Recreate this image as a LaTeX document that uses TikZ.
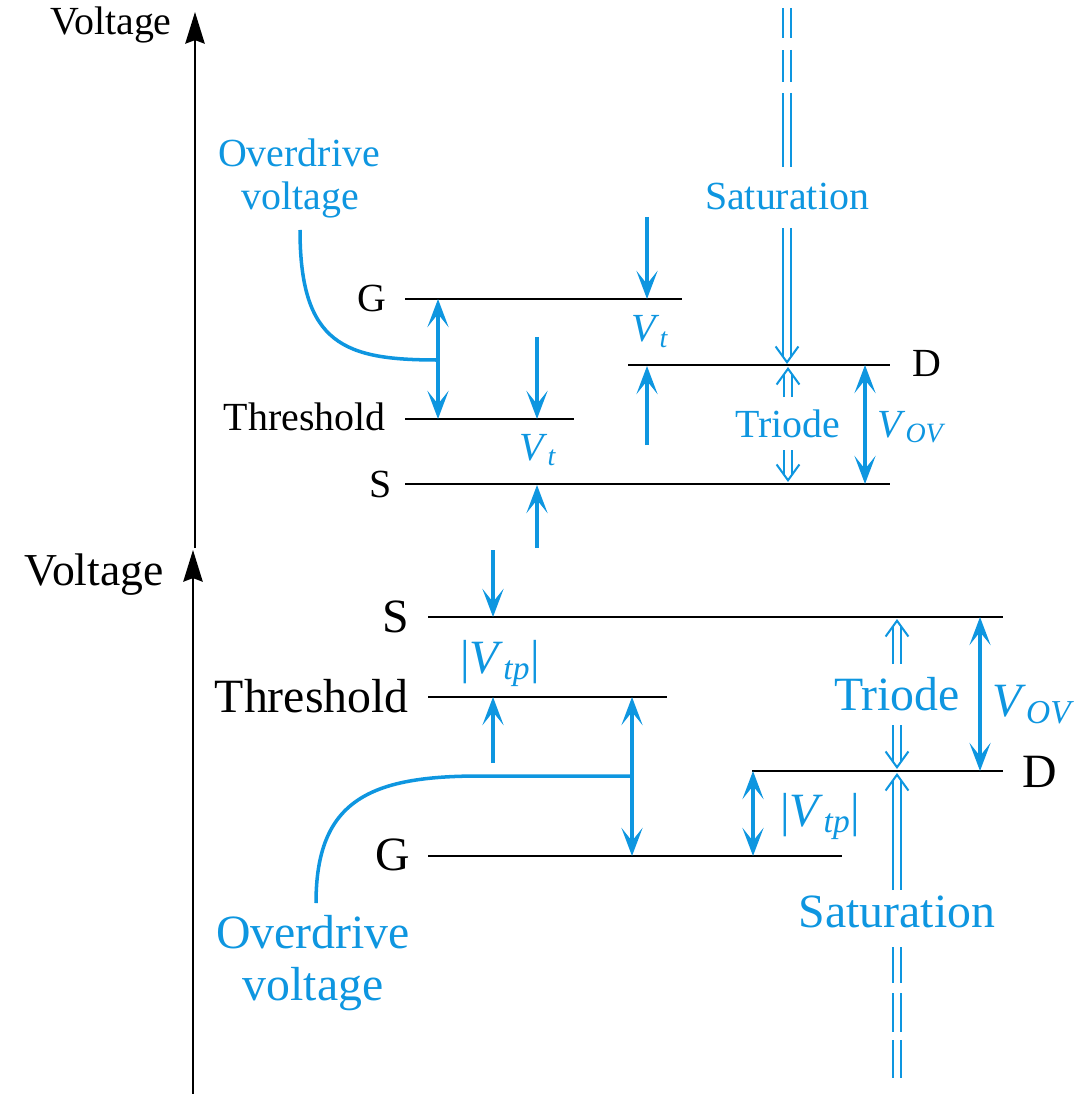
\documentclass[tikz,border=0pt]{standalone}
\usepackage{fontspec}
\setmainfont{Liberation Serif}
\usetikzlibrary{arrows.meta,calc}
\definecolor{bl}{RGB}{14,150,224}
\begin{document}
\begin{tikzpicture}[x=0.02cm,y=-0.02cm,
  lvl/.style={line width=1.6pt,black},
  vaxis/.style={line width=1.3pt,black,-{Stealth[length=18pt,width=11pt,inset=2pt]}},
  btip/.tip={Stealth[length=16pt,width=12pt,inset=7.5pt]},
  barr/.style={bl,line width=2.1pt,-btip},
  bdarr/.style={bl,line width=2.1pt,btip-btip},
  dbl/.style={bl,line width=1.15pt,double=white,double distance=3.4pt},
  dblshort/.style={dbl,shorten >=4.2pt},
  vtip/.style={bl,line width=1.15pt,-{Straight Barb[length=9pt,width=13pt]}},
  bcurve/.style={bl,line width=2pt},
  tsmall/.style={inner sep=0pt,font=\fontsize{22.7}{26}\selectfont},
  tbig/.style={inner sep=0pt,font=\fontsize{27.2}{31}\selectfont},
  tvolt/.style={inner sep=0pt,font=\fontsize{26}{30}\selectfont},
  bsmall/.style={tsmall,text=bl},
  bbig/.style={tbig,text=bl},
]
\useasboundingbox (0,0) rectangle (1074,1094);

% ================= TOP DIAGRAM =================
\coordinate (a1s) at (195,548);
\coordinate (a1e) at (195,12);
\draw[vaxis] (a1s) -- (a1e);
\node[tsmall,anchor=base east] (volt1) at (172,35) {Voltage};

% level lines
\coordinate (tGl) at (405,299); \coordinate (tGr) at (682,299);
\coordinate (tTl) at (405,419); \coordinate (tTr) at (574,419);
\coordinate (tSl) at (405,484); \coordinate (tSr) at (890,484);
\coordinate (tDl) at (628,365); \coordinate (tDr) at (890,365);
\draw[lvl] (tGl) -- (tGr);
\draw[lvl] (tTl) -- (tTr);
\draw[lvl] (tSl) -- (tSr);
\draw[lvl] (tDl) -- (tDr);
\node[tsmall,anchor=base east] (tGlab) at (387,312) {G};
\node[tsmall,anchor=base east] (tTlab) at (386,430) {Threshold};
\node[tsmall,anchor=base east] (tSlab) at (392,497) {S};
\node[tsmall,anchor=base west] (tDlab) at (912,377) {D};

% overdrive (top)
\node[bsmall,anchor=base] (tod1) at (299,167) {Overdrive};
\node[bsmall,anchor=base] (tod2) at (300,210) {voltage};
\coordinate (tov1) at (438,299); \coordinate (tov2) at (438,419);
\coordinate (tcs) at (300,230); \coordinate (tce) at (438,360);
\draw[bdarr] (tov1) -- (tov2);
\draw[bcurve] (tcs) .. controls (300,345) and (345,360) .. (tce);

% Vt (left)
\coordinate (v1a) at (537,337); \coordinate (v1b) at (537,419);
\coordinate (v1c) at (537,548); \coordinate (v1d) at (537,485);
\draw[barr] (v1a) -- (v1b);
\draw[barr] (v1c) -- (v1d);
\node[bsmall,anchor=base] (vt1) at (538,460) {\textit{V}\textsubscript{\textit{t}}};

% Vt (right)
\coordinate (v2a) at (647,217); \coordinate (v2b) at (647,299);
\coordinate (v2c) at (647,445); \coordinate (v2d) at (647,366);
\draw[barr] (v2a) -- (v2b);
\draw[barr] (v2c) -- (v2d);
\node[bsmall,anchor=base] (vt2) at (650,342) {\textit{V}\textsubscript{\textit{t}}};

% Saturation (top)
\coordinate (s1a) at (787,8);  \coordinate (s1b) at (787,38);
\coordinate (s1c) at (787,50); \coordinate (s1d) at (787,82);
\coordinate (s1e) at (787,93); \coordinate (s1f) at (787,167);
\coordinate (s1g) at (787,228); \coordinate (s1h) at (787,364);
\draw[dbl] (s1a) -- (s1b);
\draw[dbl] (s1c) -- (s1d);
\draw[dbl] (s1e) -- (s1f);
\draw[dblshort] (s1g) -- (s1h);
\draw[vtip] ($(s1h)!1pt!(s1g)$) -- (s1h);
\node[bsmall,anchor=base] (sat1) at (787,210) {Saturation};

% Triode (top)
\coordinate (t1a) at (788,397); \coordinate (t1b) at (788,367);
\coordinate (t1c) at (788,450); \coordinate (t1d) at (788,482);
\draw[dblshort] (t1a) -- (t1b);
\draw[vtip] ($(t1b)!1pt!(t1a)$) -- (t1b);
\draw[dblshort] (t1c) -- (t1d);
\draw[vtip] ($(t1d)!1pt!(t1c)$) -- (t1d);
\node[bsmall,anchor=base] (tri1) at (788,437) {Triode};

% VOV (top)
\coordinate (o1a) at (865,365); \coordinate (o1b) at (865,484);
\draw[bdarr] (o1a) -- (o1b);
\node[bsmall,anchor=base west] (vov1) at (877,437) {\textit{V}\textsubscript{\textit{OV}}};

% ================= BOTTOM DIAGRAM =================
\coordinate (a2s) at (193,1094);
\coordinate (a2e) at (193,550);
\draw[vaxis] (a2s) -- (a2e);
\node[tvolt,anchor=base east] (volt2) at (164,585) {Voltage};

\coordinate (bSl) at (428,617); \coordinate (bSr) at (1003,617);
\coordinate (bTl) at (428,697); \coordinate (bTr) at (667,697);
\coordinate (bDl) at (752,771); \coordinate (bDr) at (1003,771);
\coordinate (bGl) at (428,856); \coordinate (bGr) at (842,856);
\draw[lvl] (bSl) -- (bSr);
\draw[lvl] (bTl) -- (bTr);
\draw[lvl] (bDl) -- (bDr);
\draw[lvl] (bGl) -- (bGr);
\node[tbig,anchor=base east] (bSlab) at (409,632) {S};
\node[tbig,anchor=base east] (bTlab) at (409,712) {Threshold};
\node[tbig,anchor=base west] (bDlab) at (1022,787) {D};
\node[tbig,anchor=base east] (bGlab) at (410,870) {G};

% |Vtp| (left)
\coordinate (p1a) at (493,550); \coordinate (p1b) at (493,617);
\coordinate (p1c) at (493,763); \coordinate (p1d) at (493,697);
\draw[barr] (p1a) -- (p1b);
\draw[barr] (p1c) -- (p1d);
\node[bbig,anchor=base] (vtp1) at (500,673) {|\textit{V}\textsubscript{\textit{tp}}|};

% overdrive (bottom)
\coordinate (bov1) at (632,697); \coordinate (bov2) at (632,856);
\draw[bdarr] (bov1) -- (bov2);
\coordinate (bcs) at (632,776); \coordinate (bcm) at (480,776); \coordinate (bce) at (316,903);
\draw[bcurve] (bcs) -- (bcm) .. controls (370,776) and (316,800) .. (bce);
\node[bbig,anchor=base] (bod1) at (313,948) {Overdrive};
\node[bbig,anchor=base] (bod2) at (313,1000) {voltage};

% |Vtp| (right)
\coordinate (p2a) at (753,771); \coordinate (p2b) at (753,856);
\draw[bdarr] (p2a) -- (p2b);
\node[bbig,anchor=base west] (vtp2) at (780,826) {|\textit{V}\textsubscript{\textit{tp}}|};

% Triode (bottom)
\coordinate (t2a) at (897,664); \coordinate (t2b) at (897,619);
\coordinate (t2c) at (897,725); \coordinate (t2d) at (897,769);
\draw[dblshort] (t2a) -- (t2b);
\draw[vtip] ($(t2b)!1pt!(t2a)$) -- (t2b);
\draw[dblshort] (t2c) -- (t2d);
\draw[vtip] ($(t2d)!1pt!(t2c)$) -- (t2d);
\node[bbig,anchor=base] (tri2) at (897,710) {Triode};

% VOV (bottom)
\coordinate (o2a) at (980,617); \coordinate (o2b) at (980,771);
\draw[bdarr] (o2a) -- (o2b);
\node[bbig,anchor=base west] (vov2) at (992,716) {\textit{V}\textsubscript{\textit{OV}}};

% Saturation (bottom)
\coordinate (s2a) at (897,890); \coordinate (s2b) at (897,773);
\coordinate (s2c) at (897,947); \coordinate (s2d) at (897,983);
\coordinate (s2e) at (897,993); \coordinate (s2f) at (897,1032);
\coordinate (s2g) at (897,1040); \coordinate (s2h) at (897,1078);
\draw[dblshort] (s2a) -- (s2b);
\draw[vtip] ($(s2b)!1pt!(s2a)$) -- (s2b);
\draw[dbl] (s2c) -- (s2d);
\draw[dbl] (s2e) -- (s2f);
\draw[dbl] (s2g) -- (s2h);
\node[bbig,anchor=base] (sat2) at (897,927) {Saturation};
\end{tikzpicture}
\end{document}
